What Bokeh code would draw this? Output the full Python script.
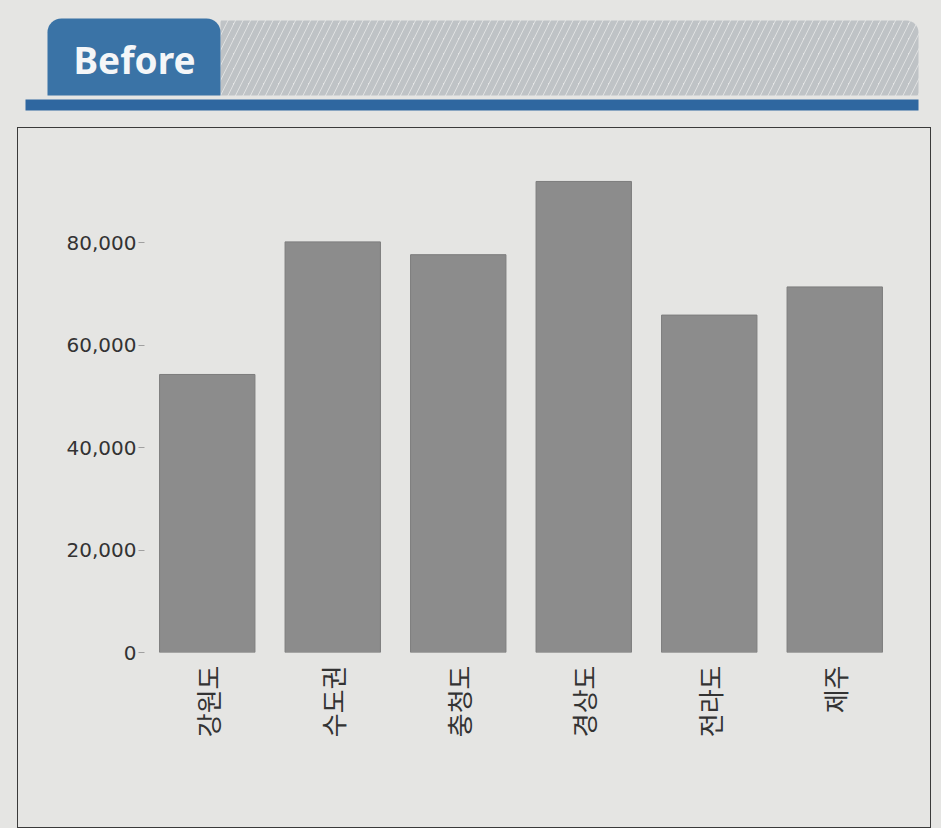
from math import pi
from bokeh.plotting import figure
from bokeh.models import Range1d, FixedTicker, NumeralTickFormatter, ColumnDataSource
from bokeh.core.properties import value
from bokeh.embed import file_html
from bokeh.resources import INLINE

# ---- data ----
regions = ["강원도", "수도권", "충청도", "경상도", "전라도", "제주"]
amounts = [54300, 80200, 77700, 92000, 65900, 71400]
y_ticks = [0, 20000, 40000, 60000, 80000]
title_text = "Before"

BG = "#e5e5e3"

# ---- header (decorative tab + hatched band + rule) ----
header = figure(width=925, height=117, x_range=Range1d(0, 925), y_range=Range1d(117, 0),
                output_backend="svg", toolbar_location=None, min_border=0)
header.margin = (8, 0, 0, 8)
header.axis.visible = False
header.grid.visible = False
header.outline_line_color = None
header.background_fill_color = BG
header.border_fill_color = BG

header.quad(left=[212], right=[910], top=[12], bottom=[87], fill_color="#e6e7e7",
            line_color=None, hatch_pattern="/", hatch_color="#bfc3c6",
            hatch_scale=15, hatch_weight=6, border_radius=(0, 12, 0, 0))
header.quad(left=[39], right=[212], top=[10], bottom=[87], fill_color="#3a73a6",
            line_color=None, border_radius=(14, 14, 0, 0))
header.quad(left=[17], right=[910], top=[91], bottom=[102], fill_color="#2f67a0",
            line_color=None)
header.text(x=[65], y=[51], text=[title_text], text_color="#f4f6f8",
            text_font=value("Noto Sans"), text_font_size="37px", text_font_style="bold",
            text_baseline="middle", text_align="left")

# ---- main chart ----
src = ColumnDataSource(dict(region=regions, amount=amounts))
p = figure(width=914, height=701, x_range=regions, y_range=Range1d(0, 100000),
           output_backend="svg", toolbar_location=None,
           min_border_left=126, min_border_right=35, min_border_top=12, min_border_bottom=177)
p.margin = (2, 0, 0, 17)
p.styles = {"border": "1.5px solid #3a3a3a"}
p.background_fill_color = BG
p.border_fill_color = BG
p.outline_line_color = None
p.grid.visible = False
p.x_range.range_padding = 0

p.vbar(x="region", top="amount", width=0.76, source=src,
       fill_color="#8c8c8c", line_color="#7d7d7d", line_width=1)

p.yaxis.ticker = FixedTicker(ticks=y_ticks)
p.yaxis.formatter = NumeralTickFormatter(format="0,0")
p.yaxis.axis_line_color = None
p.yaxis.major_tick_line_color = "#a0a0a0"
p.yaxis.major_tick_out = 6
p.yaxis.major_tick_in = 0
p.yaxis.minor_tick_line_color = None
p.yaxis.major_label_text_font = "DejaVu Sans"
p.yaxis.major_label_text_font_size = "20px"
p.yaxis.major_label_text_color = "#333333"
p.yaxis.major_label_standoff = 2

p.xaxis.axis_line_color = None
p.xaxis.major_tick_line_color = None
p.xaxis.minor_tick_line_color = None
p.xaxis.major_label_orientation = pi / 2
p.xaxis.major_label_standoff = 7
p.xaxis.major_label_text_font = "Noto Sans CJK KR"
p.xaxis.major_label_text_font_size = "26px"
p.xaxis.major_label_text_color = "#333333"

html = file_html([header, p], INLINE)
html = html.replace("</head>", "<style>html,body{background:%s;}</style></head>" % BG, 1)
open("out.html", "w").write(html)
